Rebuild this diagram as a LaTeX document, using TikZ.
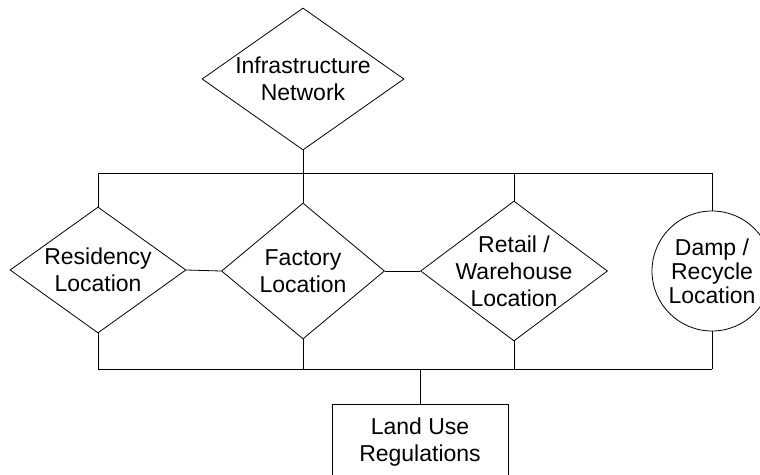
\documentclass[tikz,border=0pt]{standalone}
\usepackage{fontspec}
\setmainfont{Liberation Sans}
\usetikzlibrary{shapes.geometric}
\begin{document}
\begin{tikzpicture}[x=1pt,y=1pt,line width=0.8pt,
  dia/.style={draw,diamond,inner sep=0pt},
  lbl/.style={align=center,inner sep=0pt,font=\fontsize{23}{27}\selectfont}]
  \useasboundingbox (0,0) rectangle (760,-474);
  % shapes
  \node[dia,minimum width=202,minimum height=142] (infra) at (303,-79) {};
  \node[dia,minimum width=176,minimum height=126] (res) at (98,-270) {};
  \node[dia,minimum width=163,minimum height=136] (fac) at (303,-271) {};
  \node[dia,minimum width=187,minimum height=140] (ret) at (514,-271) {};
  \node[draw,circle,minimum size=120,inner sep=0pt] (damp) at (712,-271) {};
  \node[draw,minimum width=176,minimum height=76] (land) at (420,-442) {};
  % texts
  \node[lbl] (infratxt) at (infra) {Infrastructure\\Network};
  \node[lbl] (restxt) at (res) {Residency\\Location};
  \node[lbl] (factxt) at (fac) {Factory\\Location};
  \node[lbl] (rettxt) at (ret) {Retail /\\Warehouse\\Location};
  \node[lbl,font=\fontsize{23}{24}\selectfont] (damptxt) at (damp) {Damp /\\Recycle\\Location};
  \node[lbl] (landtxt) at (land) {Land Use\\Regulations};
  % buses
  \coordinate (tbus) at (0,-173);
  \coordinate (bbus) at (0,-369);
  \draw (res.north |- tbus) -- (damp.north |- tbus);
  \draw (res.south |- bbus) -- (damp.south |- bbus);
  \foreach \n in {res,fac,ret,damp}{
    \draw (\n.north) -- (\n.north |- tbus);
    \draw (\n.south) -- (\n.south |- bbus);
  }
  \draw (infra.south) -- (fac.north);
  \draw (land.north) -- (land.north |- bbus);
  \draw (res.east) -- (fac.west);
  \draw (fac.east) -- (ret.west);
\end{tikzpicture}
\end{document}
